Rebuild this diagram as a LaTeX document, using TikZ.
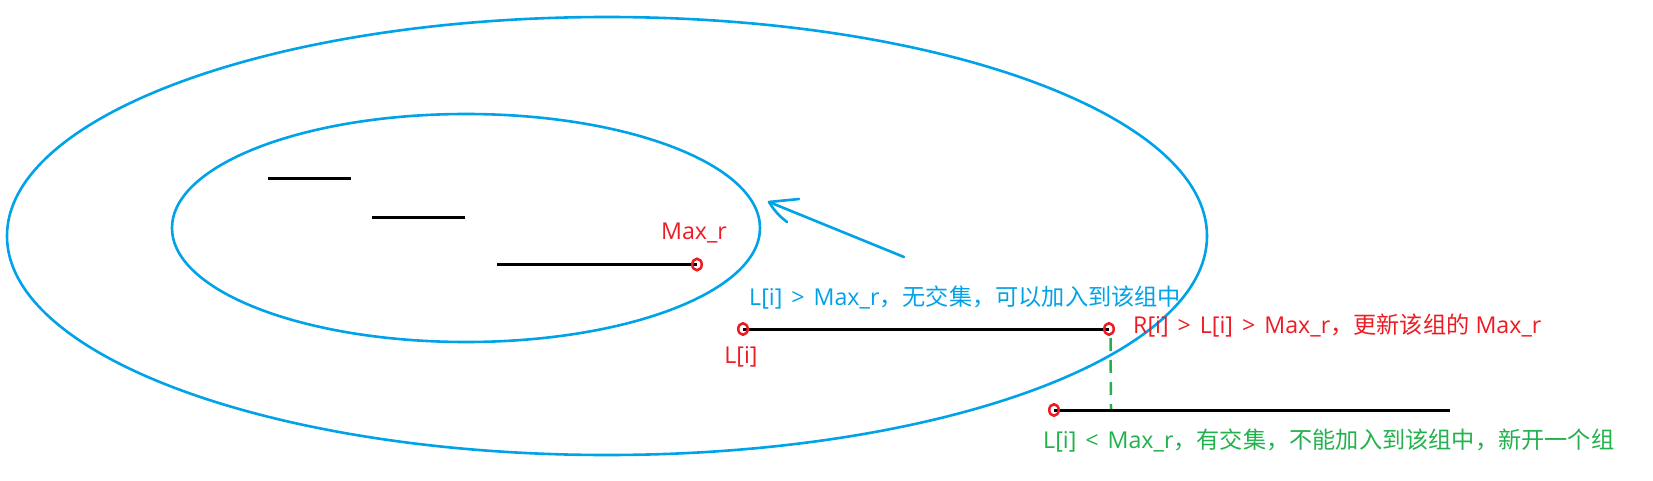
\documentclass[tikz,border=0pt]{standalone}
\usepackage{fontspec}
\setmainfont{Open Sans}
\newfontfamily\cjk{Noto Sans CJK SC}
\usetikzlibrary{backgrounds,shapes.geometric}
\definecolor{pblue}{RGB}{0,162,232}
\definecolor{pred}{RGB}{237,28,36}
\definecolor{pgreen}{RGB}{34,177,76}
\newcommand{\gtsym}{\hspace{9pt}>\hspace{9pt}}
\newcommand{\ltsym}{\hspace{9pt}<\hspace{9pt}}
\tikzset{
  seg/.style={line width=3pt, black},
  ring/.style={draw=pblue, line width=2.6pt},
  endpt/.style={ellipse, draw=pred, line width=2.5pt, inner sep=0pt, minimum width=9.5pt, minimum height=11.5pt},
  lbl/.style={inner sep=0pt, font=\fontsize{23.2}{26}\selectfont},
}
\begin{document}
\begin{tikzpicture}[x=1pt,y=-1pt]
\useasboundingbox (0,0) rectangle (1653,481);
% ellipses
\draw[ring] (607,236) ellipse [x radius=600, y radius=219];
\draw[ring] (466,228) ellipse [x radius=294, y radius=114];
% short segments
\coordinate (a1) at (268,179); \coordinate (a2) at (351,179);
\coordinate (b1) at (372,217); \coordinate (b2) at (465,217);
\draw[seg] (a1) -- (a2);
\draw[seg] (b1) -- (b2);
% end points
\node[endpt] (mr) at (697,264.5) {};
\node[endpt] (li) at (743,329) {};
\node[endpt] (ri) at (1109,329) {};
\node[endpt] (ni) at (1054,410) {};
\coordinate (c1) at (497,264.5);
\coordinate (ne) at (1450,410);
\coordinate (g1) at (1110.5,338);
\coordinate (g2) at (1111,409);
\begin{scope}[on background layer]
\draw[seg] (c1) -- (mr.center);
\draw[seg] (li.center) -- (ri.center);
\draw[seg] (ni.center) -- (ne);
\end{scope}
\node[lbl, text=pred] (mrl) at (694,233) {Max\_r};
% arrow
\coordinate (as) at (904,257);
\coordinate (at) at (769,202);
\coordinate (ab1) at (799,199);
\coordinate (ab2) at (787,222);
\draw[pblue, line width=2.6pt, line cap=round, line join=round] (as) -- (at);
\draw[pblue, line width=2.6pt, line cap=round, line join=round] (ab1) -- (at) to[bend right=10] (ab2);
\node[lbl, text=pblue, anchor=west] (t1) at (749,297) {L[i]\gtsym Max\_r{\cjk ，无交集，可以加入到该组中}};
\node[lbl, text=pred] (lil) at (741,357) {L[i]};
\node[lbl, text=pred, anchor=west] (t2) at (1133,326) {R[i]\gtsym L[i]\gtsym Max\_r{\cjk ，更新该组的} Max\_r};
\draw[pgreen, line width=2.5pt, dash pattern=on 13pt off 9pt] (g1) -- (g2);
\node[lbl, text=pgreen, anchor=west] (t3) at (1043,440) {L[i]\ltsym Max\_r{\cjk ，有交集，不能加入到该组中，新开一个组}};
\end{tikzpicture}
\end{document}
